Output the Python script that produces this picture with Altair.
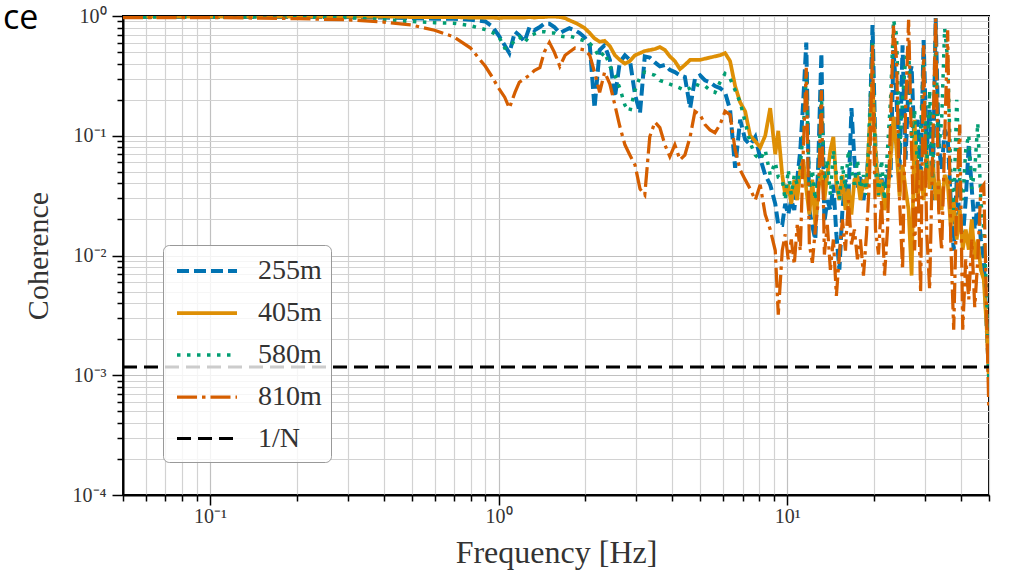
import altair as alt
import pandas as pd

# ---------------- data ----------------
low_freq = [0.05, 0.07, 0.1, 0.15, 0.2, 0.3, 0.4, 0.5, 0.6, 0.7, 0.8, 0.9, 0.95]
mid_freq = [1.0,
            1.05, 1.09, 1.14, 1.18, 1.23, 1.28, 1.33, 1.39, 1.44, 1.50,
            1.56, 1.63, 1.70, 1.76, 1.84, 1.91, 1.99, 2.07, 2.15, 2.24,
            2.33, 2.43, 2.53, 2.63, 2.74, 2.85, 2.97, 3.09, 3.21, 3.34,
            3.48, 3.62, 3.77, 3.92, 4.08, 4.25, 4.42, 4.61, 4.79, 4.99,
            5.19, 5.40, 5.62, 5.85, 6.09, 6.34, 6.60, 6.87, 7.15, 7.44,
            7.75, 8.06, 8.39, 8.73, 9.09,
            9.31]
high_freq = [9.61, 9.84, 10.08, 10.33, 10.58, 10.83, 11.10, 11.37, 11.64, 11.93,
             12.22, 12.51, 12.82, 13.13, 13.45, 13.77, 14.11, 14.45, 14.80, 15.16,
             15.53, 15.91, 16.29, 16.69, 17.09, 17.51, 17.93, 18.37, 18.82, 19.27,
             19.74, 20.22, 20.71, 21.21, 21.73, 22.25, 22.80, 23.35, 23.92, 24.50,
             25.09, 25.70, 26.33, 26.97, 27.62, 28.29, 28.98, 29.68, 30.40, 31.14,
             31.90, 32.67, 33.47, 34.28, 35.11, 35.96, 36.84, 37.73, 38.65, 39.59,
             40.55, 41.53, 42.54, 43.58, 44.63, 45.72, 46.83, 47.96, 49.13, 49.9]

coh_255_low = [0.98, 0.98, 0.98, 0.98, 0.98, 0.98, 0.97, 0.96, 0.95, 0.95, 0.93, 0.90, 0.82]
coh_255_mid = [0.69,
               0.57, 0.49, 0.74, 0.69, 0.61, 0.81, 0.76, 0.81, 0.86, 0.86,
               0.81, 0.72, 0.76, 0.79, 0.76, 0.72, 0.66, 0.57, 0.17, 0.52,
               0.57, 0.43, 0.21, 0.41, 0.47, 0.43, 0.22, 0.155, 0.46, 0.45,
               0.41, 0.38, 0.39, 0.355, 0.34, 0.32, 0.31, 0.17, 0.30, 0.32,
               0.29, 0.28, 0.26, 0.25, 0.23, 0.165, 0.054, 0.136, 0.093, 0.084,
               0.098, 0.065, 0.047, 0.039, 0.027,
               0.018]
coh_255_high = [0.018, 0.027, 0.022, 0.029, 0.024, 0.043, 0.076, 0.20, 0.60, 0.024,
                0.0175, 0.0136, 0.063, 0.49, 0.019, 0.029, 0.024, 0.039, 0.015, 0.0076,
                0.024, 0.043, 0.029, 0.17, 0.063, 0.036, 0.047, 0.029, 0.043, 0.093,
                0.84, 0.076, 0.036, 0.045, 0.029, 0.052, 0.045, 0.52, 0.20, 0.052,
                0.57, 0.063, 0.29, 0.38, 0.076, 0.136, 0.043, 0.63, 0.076, 0.165,
                0.029, 0.96, 0.084, 0.052, 0.112, 0.098, 0.029, 0.011, 0.043, 0.020,
                0.0136, 0.029, 0.084, 0.036, 0.0165, 0.028, 0.0136, 0.0093, 0.0024, 0.0011]

coh_405_low = [0.99, 0.99, 0.99, 0.99, 0.99, 0.99, 0.99, 0.98, 0.98, 0.98, 0.97, 0.97, 0.97]
coh_405_mid = [0.96,
               0.97, 0.97, 0.97, 0.97, 0.97, 0.98, 0.97, 0.98, 0.98, 0.99,
               0.99, 0.98, 0.96, 0.92, 0.88, 0.84, 0.79, 0.72, 0.65, 0.61,
               0.62, 0.56, 0.47, 0.43, 0.40, 0.42, 0.47, 0.49, 0.51, 0.52,
               0.53, 0.55, 0.52, 0.46, 0.42, 0.36, 0.39, 0.43, 0.43, 0.43,
               0.44, 0.45, 0.46, 0.47, 0.49, 0.42, 0.26, 0.19, 0.16, 0.10,
               0.09, 0.08, 0.10, 0.17, 0.07,
               0.11]
coh_405_high = [0.047, 0.032, 0.039, 0.027, 0.043, 0.029, 0.052, 0.063, 0.036, 0.022,
                0.043, 0.018, 0.036, 0.052, 0.029, 0.047, 0.076, 0.098, 0.039, 0.029,
                0.047, 0.024, 0.036, 0.022, 0.043, 0.045, 0.029, 0.043, 0.036, 0.112,
                0.28, 0.076, 0.031, 0.043, 0.024, 0.031, 0.063, 0.144, 0.076, 0.031,
                0.057, 0.036, 0.024, 0.0068, 0.136, 0.029, 0.052, 0.029, 0.076, 0.036,
                0.063, 0.029, 0.043, 0.024, 0.047, 0.041, 0.0175, 0.029, 0.0136, 0.024,
                0.0112, 0.0165, 0.0112, 0.020, 0.0093, 0.0136, 0.0076, 0.0063, 0.0024, 0.0010]

coh_580_low = [0.98, 0.98, 0.98, 0.98, 0.98, 0.97, 0.93, 0.90, 0.88, 0.87, 0.83, 0.77, 0.73]
coh_580_mid = [0.68,
               0.54, 0.55, 0.63, 0.67, 0.60, 0.68, 0.71, 0.74, 0.74, 0.72,
               0.72, 0.68, 0.67, 0.68, 0.66, 0.64, 0.62, 0.59, 0.53, 0.45,
               0.50, 0.38, 0.32, 0.25, 0.18, 0.16, 0.24, 0.31, 0.34, 0.33,
               0.32, 0.29, 0.28, 0.27, 0.26, 0.25, 0.24, 0.25, 0.27, 0.26,
               0.26, 0.24, 0.23, 0.28, 0.33, 0.30, 0.24, 0.19, 0.13, 0.087,
               0.069, 0.063, 0.076, 0.047, 0.06,
               0.045]
coh_580_high = [0.043, 0.029, 0.052, 0.032, 0.047, 0.039, 0.057, 0.112, 0.32, 0.036,
                0.052, 0.029, 0.047, 0.22, 0.043, 0.063, 0.032, 0.076, 0.047, 0.029,
                0.057, 0.036, 0.076, 0.052, 0.039, 0.063, 0.036, 0.047, 0.032, 0.136,
                0.63, 0.052, 0.032, 0.063, 0.029, 0.076, 0.20, 0.93, 0.69, 0.076,
                0.20, 0.43, 0.57, 0.093, 0.165, 0.052, 0.112, 0.43, 0.052, 0.24,
                0.043, 0.63, 0.076, 0.136, 0.79, 0.43, 0.052, 0.024, 0.20, 0.043,
                0.029, 0.076, 0.102, 0.036, 0.052, 0.128, 0.029, 0.0165, 0.0043, 0.00093]

coh_810_low = [0.97, 0.97, 0.97, 0.96, 0.95, 0.93, 0.89, 0.84, 0.76, 0.67, 0.54, 0.38, 0.31]
coh_810_mid = [0.25,
               0.21, 0.17, 0.23, 0.28, 0.30, 0.32, 0.35, 0.37, 0.50, 0.60,
               0.50, 0.38, 0.47, 0.50, 0.54, 0.53, 0.52, 0.47, 0.34, 0.23,
               0.34, 0.27, 0.18, 0.12, 0.084, 0.069, 0.057, 0.036, 0.032, 0.098,
               0.13, 0.117, 0.084, 0.067, 0.084, 0.063, 0.069, 0.098, 0.16, 0.15,
               0.124, 0.112, 0.106, 0.124, 0.16, 0.15, 0.076, 0.052, 0.043, 0.036,
               0.029, 0.039, 0.022, 0.0165, 0.011,
               0.0032]
coh_810_high = [0.011, 0.015, 0.0093, 0.0136, 0.0084, 0.018, 0.011, 0.076, 0.37, 0.0124,
                0.0087, 0.0165, 0.029, 0.24, 0.0102, 0.018, 0.0076, 0.0136, 0.0046, 0.0102,
                0.020, 0.011, 0.029, 0.0124, 0.0165, 0.0093, 0.0136, 0.0068, 0.015, 0.043,
                0.57, 0.0165, 0.0102, 0.029, 0.0068, 0.0165, 0.136, 0.84, 0.43, 0.029,
                0.0076, 0.165, 0.93, 0.076, 0.011, 0.063, 0.0049, 0.57, 0.0165, 0.0052,
                0.076, 0.96, 0.024, 0.011, 0.093, 0.76, 0.0136, 0.0024, 0.029, 0.124,
                0.0024, 0.0093, 0.0043, 0.0136, 0.0037, 0.0093, 0.036, 0.039, 0.0029, 0.00056]

inv_n_freq = [0.05, 50]
inv_n_value = 0.00117

series_names = ["255m", "405m", "580m", "810m", "1/N"]
series_colors = ["#0173b2", "#de8f05", "#029e73", "#d55e00", "#000000"]
series_dashes = [[12, 5], [1, 0], [3.5, 6.5], [20, 5, 3.5, 5], [14, 7]]
series_widths = [4, 3, 4, 4, 3.5]

x_ticks = [0.05, 0.06, 0.07, 0.08, 0.09,
           0.1, 0.2, 0.3, 0.4, 0.5, 0.6, 0.7, 0.8, 0.9,
           1, 2, 3, 4, 5, 6, 7, 8, 9,
           10, 20, 30, 40, 50]
x_major = [0.1, 1, 10]
x_major_labels = ["10⁻¹", "10⁰", "10¹"]
y_ticks = [0.0001, 0.0002, 0.0003, 0.0004, 0.0005, 0.0006, 0.0007, 0.0008, 0.0009,
           0.001, 0.002, 0.003, 0.004, 0.005, 0.006, 0.007, 0.008, 0.009,
           0.01, 0.02, 0.03, 0.04, 0.05, 0.06, 0.07, 0.08, 0.09,
           0.1, 0.2, 0.3, 0.4, 0.5, 0.6, 0.7, 0.8, 0.9, 1]
y_major = [0.0001, 0.001, 0.01, 0.1, 1]
y_major_labels = ["10⁻⁴", "10⁻³", "10⁻²", "10⁻¹", "10⁰"]

# ---------------- table ----------------
freq = low_freq + mid_freq + high_freq
series_values = {
    "255m": coh_255_low + coh_255_mid + coh_255_high,
    "405m": coh_405_low + coh_405_mid + coh_405_high,
    "580m": coh_580_low + coh_580_mid + coh_580_high,
    "810m": coh_810_low + coh_810_mid + coh_810_high,
}
rows = []
for name, vals in series_values.items():
    assert len(vals) == len(freq), (name, len(vals), len(freq))
    for f, c in zip(freq, vals):
        rows.append({"series": name, "freq": f, "coh": c})
for f in inv_n_freq:
    rows.append({"series": "1/N", "freq": f, "coh": inv_n_value})
df = pd.DataFrame(rows)


def label_expr(vals, labels):
    expr = "''"
    for v, l in reversed(list(zip(vals, labels))):
        expr = f"datum.value == {v} ? '{l}' : {expr}"
    return expr


SERIF = "Liberation Serif"
TXT = "#333333"

x_axis = alt.Axis(
    values=x_ticks,
    labelExpr=label_expr(x_major, x_major_labels),
    labelOverlap=False,
    labelFlush=False,
    tickSize={"condition": {"test": f"indexof({x_major}, datum.value) >= 0", "value": 10}, "value": 6},
    tickColor="black", tickWidth=1.5,
    grid=True,
    gridColor={"condition": {"test": f"indexof({x_major}, datum.value) >= 0", "value": "#c0c0c0"}, "value": "#d2d2d2"},
    gridWidth=1.2,
    domainColor="black", domainWidth=2,
    labelFont=SERIF, labelFontSize=20, labelColor=TXT, labelPadding=1,
    titleFont=SERIF, titleFontSize=32, titleFontWeight="normal", titleColor=TXT,
    titleY=57, titleBaseline="middle",
)
y_axis = alt.Axis(
    values=y_ticks,
    labelExpr=label_expr(y_major, y_major_labels),
    labelOverlap=False,
    labelFlush=False,
    tickSize={"condition": {"test": f"indexof({y_major}, datum.value) >= 0", "value": 11}, "value": 6},
    tickColor="black", tickWidth=1.5,
    grid=True,
    gridColor={"condition": {"test": f"indexof({y_major}, datum.value) >= 0", "value": "#c0c0c0"}, "value": "#d2d2d2"},
    gridWidth=1.2,
    domainColor="black", domainWidth=2,
    labelFont=SERIF, labelFontSize=20, labelColor=TXT, labelPadding=6,
    titleFont=SERIF, titleFontSize=30, titleFontWeight="normal", titleColor=TXT,
    titleX=-85, titleY=239.5, titleAngle=-90, titleBaseline="middle", titleAlign="center",
)

legend = alt.Legend(
    orient="none", legendX=40, legendY=229, title=None,
    symbolType="M-2,0H2", symbolSize=900, symbolStrokeWidth=3.5, symbolOffset=18,
    labelFont=SERIF, labelFontSize=28, labelColor=TXT, labelOffset=34,
    rowPadding=11, padding=9,
    fillColor="rgba(255,255,255,0.8)", strokeColor="#999999", cornerRadius=6,
)

base = alt.Chart(df).mark_line(clip=True, strokeCap="butt", strokeJoin="miter").encode(
    x=alt.X("freq:Q", scale=alt.Scale(type="log", domain=[0.05, 50], nice=False),
            axis=x_axis, title="Frequency [Hz]"),
    y=alt.Y("coh:Q", scale=alt.Scale(type="log", domain=[0.0001, 1], nice=False),
            axis=y_axis, title="Coherence"),
    color=alt.Color("series:N", scale=alt.Scale(domain=series_names, range=series_colors),
                    legend=legend, title=None),
    strokeDash=alt.StrokeDash("series:N", scale=alt.Scale(domain=series_names, range=series_dashes),
                              legend=legend, title=None),
    strokeWidth=alt.StrokeWidth("series:N", scale=alt.Scale(domain=series_names, range=series_widths),
                                legend=None),
)

layers = [base.transform_filter(alt.datum.series == s) for s in series_names]

corner = alt.Chart(pd.DataFrame({"t": ["ce"]})).mark_text(
    font="Open Sans", fontSize=34, align="left", baseline="alphabetic", color="black", clip=False
).encode(text="t:N", x=alt.value(-120), y=alt.value(13))

chart = alt.layer(*layers, corner).properties(
    width=866, height=479,
    padding={"left": 123, "top": 16, "right": 21, "bottom": 82},
    autosize=alt.AutoSizeParams(type="none"),
    background="white",
).configure_view(stroke="black", strokeWidth=2)

chart.save("out.html", embed_options={"renderer": "svg", "actions": False})
